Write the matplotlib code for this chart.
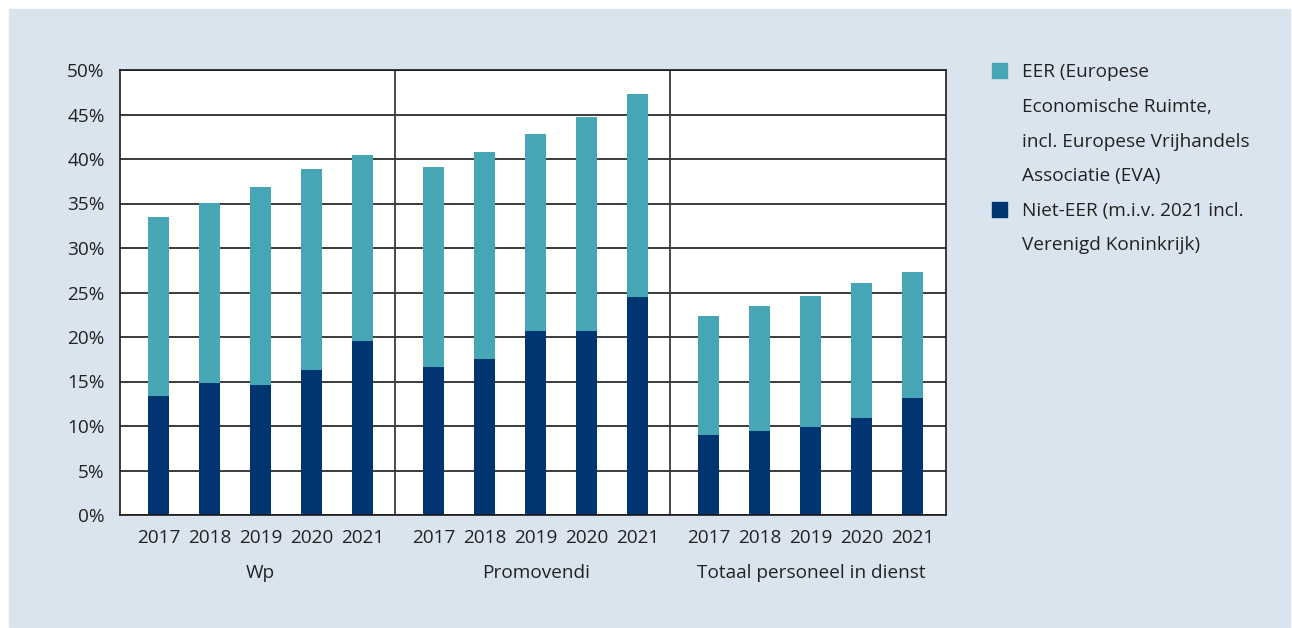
import matplotlib.pyplot as plt
from matplotlib.patches import Rectangle

plt.rcParams['font.family'] = ['Open Sans', 'DejaVu Sans']

jaren = ["2017", "2018", "2019", "2020", "2021"]
groepen = ["Wp", "Promovendi", "Totaal personeel in dienst"]

# percentages per groep, per jaar
niet_eer = [
    [13.4, 14.8, 14.6, 16.3, 19.6],
    [16.6, 17.5, 20.7, 20.7, 24.5],
    [9.0, 9.4, 9.9, 10.9, 13.1],
]
totaal = [
    [33.5, 35.1, 36.9, 38.9, 40.4],
    [39.1, 40.8, 42.8, 44.7, 47.3],
    [22.4, 23.5, 24.6, 26.1, 27.3],
]
eer = [[t - n for t, n in zip(tr, nr)] for tr, nr in zip(totaal, niet_eer)]

legenda_eer = ["EER (Europese", "Economische Ruimte,",
               "incl. Europese Vrijhandels", "Associatie (EVA)"]
legenda_niet = ["Niet-EER (m.i.v. 2021 incl.", "Verenigd Koninkrijk)"]

teal = "#47a6b6"
navy = "#003572"
tekst = "#222222"
achter = "#dae4ef"
fs = 13.7

fig = plt.figure(figsize=(12.92, 6.28), dpi=100)
fig.patches.append(Rectangle((9 / 1292, 1 / 628), 1281 / 1292, 618 / 628,
                             transform=fig.transFigure, color=achter, zorder=-5))

ax = fig.add_axes([120 / 1292, 113 / 628, 825.7 / 1292, 445 / 628])
ax.set_facecolor("white")

stap = 5.4
x = []
xl = []
for g in range(3):
    for i in range(5):
        pos = g * stap + i
        x.append(pos)
        xl.append(jaren[i])
        ax.bar(pos, niet_eer[g][i], width=0.41, color=navy, zorder=3)
        ax.bar(pos, eer[g][i], bottom=niet_eer[g][i], width=0.41, color=teal, zorder=3)

ax.set_xlim(-0.755, 3 * stap - 0.755)
ax.set_ylim(0, 50)
ax.set_yticks(range(0, 51, 5))
ax.set_yticklabels([f"{v}%" for v in range(0, 51, 5)])
ax.set_xticks(x)
ax.set_xticklabels(xl)
ax.tick_params(axis="both", length=0, labelsize=fs, colors=tekst)
ax.tick_params(axis="y", pad=11)
ax.tick_params(axis="x", pad=10)
ax.grid(axis="y", color="#1a1a1a", linewidth=1.2, zorder=1)

for g in (1, 2):
    ax.axvline(g * stap - 0.755, color="#3a3a3a", linewidth=1.3, zorder=2)

for sp in ax.spines.values():
    sp.set_color("#1a1a1a")
    sp.set_linewidth(1.2)
    sp.set_zorder(4)

for g, naam in enumerate(groepen):
    ax.text(g * stap + 2, -6.5, naam, ha="center", va="center",
            fontsize=fs, color=tekst)

# legenda
fig.patches.append(Rectangle((992 / 1292, (628 - 78) / 628), 15 / 1292, 15 / 628,
                             transform=fig.transFigure, color=teal))
fig.patches.append(Rectangle((992 / 1292, (628 - 217) / 628), 15 / 1292, 15 / 628,
                             transform=fig.transFigure, color=navy))
for regel, y in zip(legenda_eer, [72, 107, 142, 176]):
    fig.text(1022 / 1292, (628 - y) / 628, regel, ha="left", va="center",
             fontsize=fs, color=tekst)
for regel, y in zip(legenda_niet, [211, 245]):
    fig.text(1022 / 1292, (628 - y) / 628, regel, ha="left", va="center",
             fontsize=fs, color=tekst)

fig.savefig("out.png", dpi=100, facecolor="white")
